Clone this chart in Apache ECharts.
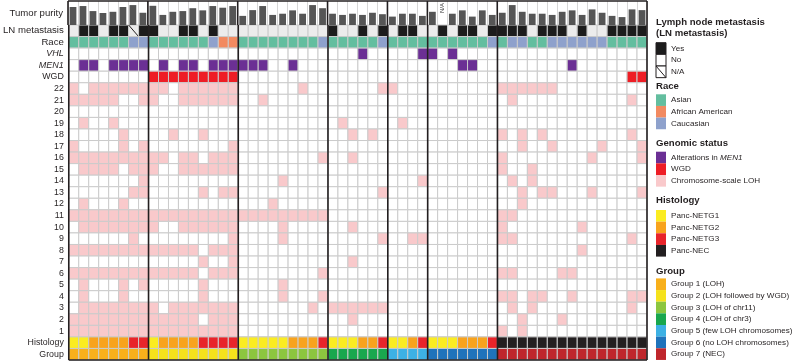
<!DOCTYPE html>
<html>
<head>
<meta charset="utf-8">
<script src="https://cdn.jsdelivr.net/npm/echarts@6/dist/echarts.min.js"></script>
<style>
  html, body { margin: 0; padding: 0; background: #fff; }
  #chart { width: 795px; height: 361px; }
</style>
</head>
<body>
<div id="chart"></div>
<script>
// ---- data (58 tumours, left to right) ----
const groupOf = [
  0, 0, 0, 0, 0, 0, 0, 0,
  1, 1, 1, 1, 1, 1, 1, 1, 1,
  2, 2, 2, 2, 2, 2, 2, 2, 2,
  3, 3, 3, 3, 3, 3,
  4, 4, 4, 4,
  5, 5, 5, 5, 5, 5, 5,
  6, 6, 6, 6, 6, 6, 6, 6, 6, 6, 6, 6, 6, 6, 6
];
const samples = groupOf.map((g, i) => 'T' + (i + 1));

// tumour purity in %, null = N/A
const purity = [
  75, 79, 58, 50, 55, 75, 83, 51,
  80, 42, 55, 58, 70, 61, 79, 72, 79,
  38, 62, 79, 42, 47, 61, 47, 83, 70,
  47, 42, 47, 42, 51, 45,
  35, 47, 47, 38,
  55, null, 47, 61, 35, 61, 42,
  51, 83, 55, 47, 47, 42, 55, 61, 42, 65, 51, 38, 33, 65, 62
];
// 1 = yes, 0 = no, -1 = N/A
const lnMetastasis = [
  0, 1, 1, 0, 1, 1, -1, 1,
  1, 0, 0, 1, 1, 0, 1, 0, 0,
  0, 0, 0, 0, 0, 0, 0, 0, 0,
  1, 0, 0, 1, 0, 1,
  0, 1, 1, 0,
  0, 1, 0, 1, 1, 0, 1,
  1, 1, 1, 0, 1, 1, 1, 0, 1, 0, 0, 1, 1, 1, 1
];
// 0 = Asian, 1 = African American, 2 = Caucasian
const race = [
  0, 0, 0, 0, 0, 0, 2, 2,
  0, 0, 0, 0, 0, 0, 2, 1, 1,
  0, 0, 0, 0, 0, 0, 0, 0, 2,
  0, 0, 0, 0, 0, 2,
  0, 0, 0, 0,
  0, 0, 0, 0, 0, 0, 2,
  0, 2, 2, 0, 0, 2, 2, 2, 2, 2, 2, 0, 0, 0, 0
];
// 0 = NETG1, 1 = NETG2, 2 = NETG3, 3 = NEC
const histology = [
  0, 0, 1, 1, 1, 1, 2, 2,
  0, 1, 1, 1, 1, 2, 2, 2, 2,
  0, 0, 0, 0, 0, 1, 1, 1, 2,
  0, 0, 0, 1, 1, 2,
  0, 0, 1, 2,
  0, 0, 0, 1, 1, 1, 2,
  3, 3, 3, 3, 3, 3, 3, 3, 3, 3, 3, 3, 3, 3, 3
];
// sample indices carrying the event
const vhlAlt = [29, 35, 36, 38];
const men1Alt = [1, 2, 4, 5, 6, 7, 9, 11, 12, 14, 15, 16, 17, 18, 19, 22, 39, 40, 50];
const wgdSamples = [8, 9, 10, 11, 12, 13, 14, 15, 16, 56, 57];

const chromosomes = ['22', '21', '20', '19', '18', '17', '16', '15', '14', '13', '12',
  '11', '10', '9', '8', '7', '6', '5', '4', '3', '2', '1'];
// chromosome-scale LOH, one list per chromosome in the order above
const lohSamples = [
  [0, 2, 3, 4, 5, 6, 7, 8, 9, 11, 12, 13, 14, 15, 16, 23, 31, 32, 43, 44, 45, 46, 47, 48], // 22
  [0, 1, 2, 3, 4, 7, 8, 11, 12, 13, 14, 15, 16, 19, 44, 56],                              // 21
  [],                                                                                     // 20
  [1, 4, 27, 33],                                                                         // 19
  [5, 10, 13, 28, 30, 43, 45, 47, 56],                                                    // 18
  [0, 5, 7, 16, 45, 48, 53, 57],                                                          // 17
  [0, 1, 2, 3, 4, 5, 6, 7, 8, 9, 11, 12, 14, 15, 16, 25, 28, 43, 52, 57],                 // 16
  [1, 2, 3, 4, 6, 7, 8, 11, 12, 13, 14, 15, 16, 43, 46],                                  // 15
  [7, 21, 35, 44, 46],                                                                    // 14
  [6, 7, 13, 15, 16, 31, 45, 47, 48, 52, 57],                                             // 13
  [1, 5, 20, 45],                                                                         // 12
  [0, 1, 2, 3, 4, 5, 6, 7, 8, 9, 10, 11, 12, 13, 14, 15, 16, 17, 18, 19, 20, 21, 22, 23, 24, 25, 43, 44], // 11
  [1, 2, 3, 4, 5, 6, 7, 8, 11, 12, 13, 14, 15, 16, 21, 28, 43, 51],                      // 10
  [6, 16, 21, 31, 34, 35, 43, 44, 56],                                                    // 9
  [0, 1, 2, 3, 4, 5, 6, 7, 8, 9, 10, 11, 12, 14, 15, 16, 51],                             // 8
  [13, 16, 28],                                                                           // 7
  [0, 1, 2, 3, 4, 5, 6, 7, 8, 9, 10, 11, 12, 14, 15, 16, 25, 43, 44, 49, 50],             // 6
  [1, 5, 7, 13, 21],                                                                      // 5
  [1, 5, 13, 21, 25, 43, 44, 46, 47, 50, 56, 57],                                         // 4
  [1, 2, 3, 4, 5, 6, 7, 8, 10, 11, 12, 13, 14, 15, 16, 24, 26, 27, 28, 29, 30, 31, 44, 46, 56], // 3
  [0, 1, 2, 3, 4, 5, 6, 7, 8, 9, 10, 11, 12, 14, 15, 16, 28, 45, 49],                    // 2
  [0, 1, 2, 3, 4, 5, 6, 7, 8, 9, 10, 11, 12, 13, 14, 15, 16, 43, 45]                     // 1
];

const rowNames = ['LN metastasis', 'Race', 'VHL', 'MEN1', 'WGD']
  .concat(chromosomes, ['Histology', 'Group']);

const raceNames = ['Asian', 'African American', 'Caucasian'];
const histNames = ['Panc-NETG1', 'Panc-NETG2', 'Panc-NETG3', 'Panc-NEC'];
const groupNames = ['Group 1 (LOH)', 'Group 2 (LOH followed by WGD)', 'Group 3 (LOH of chr11)',
  'Group 4 (LOH of chr3)', 'Group 5 (few LOH chromosomes)', 'Group 6 (no LOH chromosomes)', 'Group 7 (NEC)'];

// ---- colours ----
const raceColors = ['#63be9f', '#f28a60', '#8ea1cc'];
const histColors = ['#fbec21', '#f8a31d', '#e8242a', '#231f20'];
const groupColors = ['#f8b01b', '#f5e21c', '#8cc63f', '#19a74e', '#3db1e4', '#1f73bb', '#bf262c'];
const purple = '#6b2f94';
const wgdRed = '#ee1d25';
const lohPink = '#f9c9cb';
const lnYes = '#1c1c1c';
const lnNo = '#ececec';
const ink = '#231f20';
const FONT = '"Liberation Sans", Arial, Helvetica, sans-serif';

// ---- build cells of the matrix ----
const cells = [];
const cellColor = [];
const cellSlash = [];
function addCell(c, r, color, slash) {
  cells.push([c, r]);
  cellColor.push(color);
  cellSlash.push(!!slash);
}
samples.forEach((s, c) => {
  const ln = lnMetastasis[c];
  addCell(c, 0, ln === 1 ? lnYes : lnNo, ln === -1);
  addCell(c, 1, raceColors[race[c]]);
  addCell(c, 2, vhlAlt.includes(c) ? purple : '#fff');
  addCell(c, 3, men1Alt.includes(c) ? purple : '#fff');
  addCell(c, 4, wgdSamples.includes(c) ? wgdRed : '#fff');
  lohSamples.forEach((list, k) => addCell(c, 5 + k, list.includes(c) ? lohPink : '#fff'));
  addCell(c, 27, histColors[histology[c]]);
  addCell(c, 28, groupColors[groupOf[c]]);
});

// group boundaries (index of first sample of each group, plus the end)
const bounds = [0];
groupOf.forEach((g, i) => { if (i > 0 && g !== groupOf[i - 1]) bounds.push(i); });
bounds.push(samples.length);
const naPurity = purity.map((v, i) => (v == null ? i : -1)).filter(i => i >= 0);

function boundaryX(api, b) {
  const w = api.size([1, 0])[0];
  const idx = Math.min(b, samples.length - 1);
  return api.coord([idx, 0])[0] + (b >= samples.length ? w / 2 : -w / 2);
}
function frameSeries(gridIdx, edge) {
  return {
    type: 'custom',
    xAxisIndex: gridIdx,
    yAxisIndex: gridIdx,
    silent: true,
    z: 10,
    data: [[0, 0]],
    renderItem(params, api) {
      const cs = params.coordSys;
      const kids = bounds.map(b => {
        const x = boundaryX(api, b);
        return { type: 'line', shape: { x1: x, y1: cs.y, x2: x, y2: cs.y + cs.height },
          style: { stroke: ink, lineWidth: 1.6 } };
      });
      const yEdge = edge === 'top' ? cs.y : cs.y + cs.height;
      kids.push({ type: 'line',
        shape: { x1: boundaryX(api, 0), y1: yEdge, x2: boundaryX(api, samples.length), y2: yEdge },
        style: { stroke: ink, lineWidth: 1.6 } });
      return { type: 'group', children: kids };
    }
  };
}

function rowLabel(v) {
  if (v === 'VHL' || v === 'MEN1') return '{i|' + v + '}';
  if (v === 'LN metastasis' || v === 'Race') return '{b|' + v + '}';
  return '{s|' + v + '}';
}

// ---- legend on the right (drawn as graphic) ----
const legendBlocks = [
  { title: ['Lymph node metastasis', '(LN metastasis)'], titleY: [22.5, 33], top: 42.7,
    items: [{ label: 'Yes', color: lnYes, border: true },
            { label: 'No', color: '#fff', border: true },
            { label: 'N/A', color: '#fff', border: true, slash: true }] },
  { title: ['Race'], titleY: [86], top: 94.3,
    items: raceNames.map((n, i) => ({ label: n, color: raceColors[i] })) },
  { title: ['Genomic status'], titleY: [143.3], top: 151.7,
    items: [{ label: 'Alterations in {i|MEN1}', color: purple },
            { label: 'WGD', color: wgdRed },
            { label: 'Chromosome-scale LOH', color: lohPink }] },
  { title: ['Histology'], titleY: [200], top: 210,
    items: histNames.map((n, i) => ({ label: n, color: histColors[i] })) },
  { title: ['Group'], titleY: [271.5], top: 278.4,
    items: groupNames.map((n, i) => ({ label: n, color: groupColors[i] })) }
];
const graphics = [];
const lgX = 656, swW = 10, swH = 11.65, txX = 671;
legendBlocks.forEach(b => {
  b.title.forEach((t, k) => graphics.push({
    type: 'text', x: lgX, y: b.titleY[k],
    style: { text: t, fill: ink, font: 'bold 9.6px ' + FONT, verticalAlign: 'middle', textVerticalAlign: 'middle' }
  }));
  b.items.forEach((it, k) => {
    const y = b.top + k * swH;
    graphics.push({
      type: 'rect', shape: { x: lgX, y: y, width: swW, height: swH },
      style: { fill: it.color, stroke: it.border ? ink : null, lineWidth: it.border ? 1 : 0 }
    });
    if (it.slash) {
      graphics.push({ type: 'line', shape: { x1: lgX, y1: y, x2: lgX + swW, y2: y + swH },
        style: { stroke: ink, lineWidth: 1 } });
    }
    graphics.push({
      type: 'text', x: txX, y: y + swH / 2,
      style: { text: it.label, fill: ink, font: '8.1px ' + FONT, verticalAlign: 'middle', textVerticalAlign: 'middle',
        rich: { i: { fontStyle: 'italic', fontSize: 8.1, fontFamily: FONT, fill: ink } } }
    });
  });
});

const chart = echarts.init(document.getElementById('chart'));
chart.setOption({
  animation: false,
  backgroundColor: '#fff',
  grid: [
    { left: 68, top: 1, width: 579, height: 24 },
    { left: 68, top: 25, width: 579, height: 335 }
  ],
  xAxis: [
    { type: 'category', gridIndex: 0, data: samples, boundaryGap: true,
      axisLine: { show: false }, axisTick: { show: false }, axisLabel: { show: false },
      splitLine: { show: true, interval: 0, lineStyle: { color: '#d6d6d6', width: 1 } } },
    { type: 'category', gridIndex: 1, data: samples, boundaryGap: true,
      axisLine: { show: false }, axisTick: { show: false }, axisLabel: { show: false },
      splitLine: { show: false } }
  ],
  yAxis: [
    { type: 'value', gridIndex: 0, min: 0, max: 100,
      axisLine: { show: false }, axisTick: { show: false }, axisLabel: { show: false },
      splitLine: { show: false },
      name: 'Tumor purity', nameLocation: 'middle', nameRotate: 0, nameGap: 5,
      nameTextStyle: { color: ink, fontSize: 9.6, fontFamily: FONT, align: 'right', verticalAlign: 'middle' } },
    { type: 'category', gridIndex: 1, data: rowNames, inverse: true,
      axisLine: { show: false }, axisTick: { show: false }, splitLine: { show: false },
      axisLabel: {
        interval: 0, margin: 5, formatter: rowLabel,
        rich: {
          b: { fontSize: 9.6, fontFamily: FONT, color: ink },
          s: { fontSize: 8.8, fontFamily: FONT, color: ink },
          i: { fontSize: 9, fontFamily: FONT, fontStyle: 'italic', color: ink }
        }
      } }
  ],
  graphic: graphics,
  series: [
    { type: 'bar', xAxisIndex: 0, yAxisIndex: 0, data: purity, barWidth: '68%',
      itemStyle: { color: '#555555' }, silent: true },
    { type: 'custom', xAxisIndex: 0, yAxisIndex: 0, silent: true,
      data: naPurity.map(i => [i, 100]),
      renderItem(params, api) {
        const p = api.coord([api.value(0), api.value(1)]);
        return { type: 'text', x: p[0], y: p[1] + 7, rotation: Math.PI / 2,
          style: { text: 'N/A', fill: '#333', font: '6px ' + FONT, align: 'center', verticalAlign: 'middle' } };
      } },
    frameSeries(0, 'top'),
    { type: 'custom', xAxisIndex: 1, yAxisIndex: 1, silent: true,
      data: cells,
      renderItem(params, api) {
        const p = api.coord([api.value(0), api.value(1)]);
        const s = api.size([1, 1]);
        const x = p[0] - s[0] / 2, y = p[1] - s[1] / 2;
        const kids = [{ type: 'rect', shape: { x: x, y: y, width: s[0], height: s[1] },
          style: { fill: cellColor[params.dataIndex], stroke: '#cbcbcb', lineWidth: 1 } }];
        if (cellSlash[params.dataIndex]) {
          kids.push({ type: 'line', shape: { x1: x, y1: y, x2: x + s[0], y2: y + s[1] },
            style: { stroke: ink, lineWidth: 1 } });
        }
        return { type: 'group', children: kids };
      } },
    frameSeries(1, 'bottom')
  ]
});
</script>
</body>
</html>
